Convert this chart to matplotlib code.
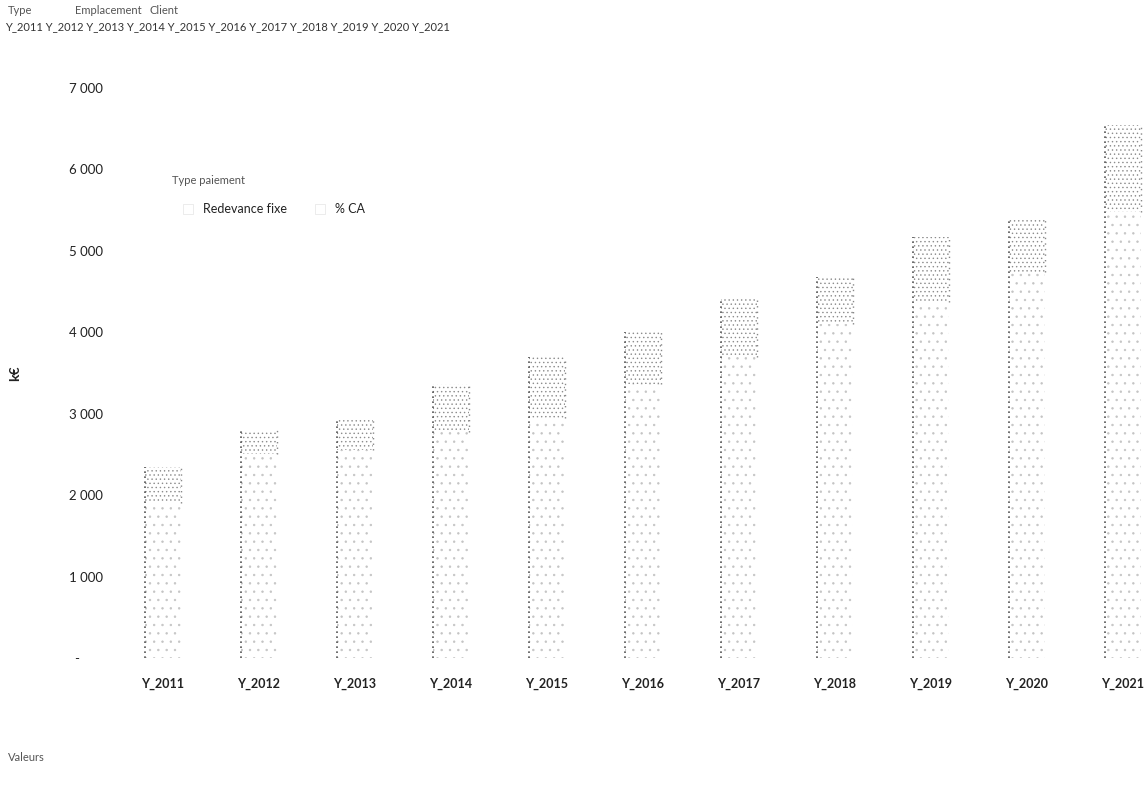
import matplotlib
matplotlib.use("Agg")
import matplotlib.pyplot as plt
import numpy as np
from matplotlib.ticker import FuncFormatter
from matplotlib.patches import Patch

plt.rcParams['font.family'] = ['Lato', 'DejaVu Sans']
plt.rcParams['hatch.linewidth'] = 0.5

years = ["Y_2011", "Y_2012", "Y_2013", "Y_2014", "Y_2015", "Y_2016",
         "Y_2017", "Y_2018", "Y_2019", "Y_2020", "Y_2021"]
redevance_fixe = [1900, 2500, 2560, 2780, 2950, 3360, 3700, 4100, 4370, 4740, 5480]
pct_ca = [450, 300, 390, 580, 750, 640, 710, 580, 800, 650, 1070]
series_names = ["Redevance fixe", "% CA"]
yticks = [0, 1000, 2000, 3000, 4000, 5000, 6000, 7000]

fig = plt.figure(figsize=(11.47, 7.87), dpi=100)
W, H = 1147, 787
ax = fig.add_axes([120 / W, (H - 658) / H, (W - 120) / W, (658 - 88) / H])

x = np.arange(len(years))
width = 0.38
b1 = ax.bar(x, redevance_fixe, width, color='white', edgecolor='#c4c4c4',
            hatch='..', linewidth=0)
b2 = ax.bar(x, pct_ca, width, bottom=redevance_fixe, color='white',
            edgecolor='#8c8c8c', hatch='....', linewidth=0)
totals = np.array(redevance_fixe) + np.array(pct_ca)
ax.vlines(x - width / 2, 0, totals, colors='#555555', linestyles=(0, (1, 2)),
          linewidth=1.2)
ax.vlines(x + width / 2, redevance_fixe, totals, colors='#888888',
          linestyles=(0, (1, 3)), linewidth=1.0)

step = 96.0
ax.set_xlim(-(163 - 120) / step, 10 + (W - 1123) / step)
ax.set_ylim(0, 7000)
ax.set_yticks(yticks)


def fmt(v, pos):
    if v == 0:
        return "-       "
    return f"{int(v):,}".replace(",", " ")


ax.yaxis.set_major_formatter(FuncFormatter(fmt))
ax.set_xticks(x)
ax.set_xticklabels(years, fontsize=9, fontweight='bold', color='#222222')
ax.tick_params(axis='y', length=0, pad=12, labelsize=9.5, labelcolor='#222222')
ax.tick_params(axis='x', length=0, pad=14)
for s in ax.spines.values():
    s.set_visible(False)

ax.set_ylabel("k€", fontsize=10, fontweight='bold', color='#222222', labelpad=35)

# header texts (pivot-table field buttons)
fig.text(8 / W, 1 - 5 / H, "Type", fontsize=8, color='#555555', va='top')
fig.text(75 / W, 1 - 5 / H, "Emplacement", fontsize=8, color='#555555', va='top')
fig.text(150 / W, 1 - 5 / H, "Client", fontsize=8, color='#555555', va='top')
fig.text(5 / W, 1 - 21 / H, " ".join(years), fontsize=8, color='#333333', va='top')
fig.text(8 / W, 1 - 752 / H, "Valeurs", fontsize=8, color='#555555', va='top')

# legend
fig.text(172 / W, 1 - 175 / H, "Type paiement", fontsize=8, color='#555555', va='top')
handles = [Patch(facecolor='white', edgecolor='#e4e4e4', linewidth=0.5),
           Patch(facecolor='white', edgecolor='#e4e4e4', linewidth=0.5)]
fig.legend(handles, series_names, loc='upper left', ncol=2, frameon=False,
           bbox_to_anchor=(172 / W, 1 - 192 / H), fontsize=9,
           handlelength=0.8, handleheight=0.8, columnspacing=2.2,
           labelcolor='#222222')

fig.savefig("out.png", dpi=100)
